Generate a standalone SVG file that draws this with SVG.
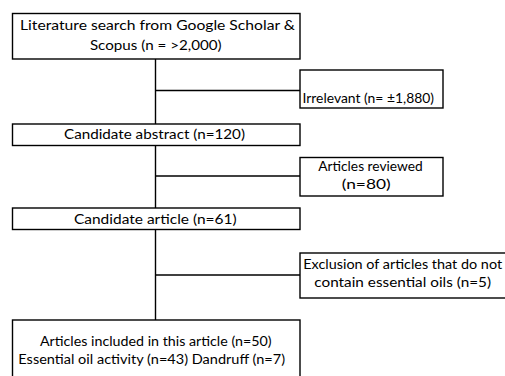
<svg xmlns="http://www.w3.org/2000/svg" width="505" height="376" viewBox="0 0 505 376">
<style>
.box{fill:#fff;stroke:#000;stroke-width:1.4}
.ln{fill:none;stroke:#000;stroke-width:1.4}
text{font-family:Lato,"Liberation Sans",sans-serif;font-size:13.5px;fill:#000}
.c{text-anchor:middle}
</style>
<rect width="505" height="376" fill="#fff"/>
<g id="connectors">
<line class="ln" x1="155.5" y1="59" x2="155.5" y2="320"/>
<line class="ln" x1="155.5" y1="90.5" x2="300" y2="90.5"/>
<line class="ln" x1="155.5" y1="176" x2="300" y2="176"/>
<line class="ln" x1="155.5" y1="275" x2="300" y2="275"/>
</g>
<g id="n1">
<rect class="box" x="12.5" y="13.5" width="287.5" height="45.5"/>
<text class="c" x="157.5" y="30" textLength="275" lengthAdjust="spacingAndGlyphs">Literature search from Google Scholar &amp;</text>
<text class="c" x="155.8" y="50" textLength="131.7" lengthAdjust="spacingAndGlyphs">Scopus (n = &gt;2,000)</text>
</g>
<g id="n2">
<rect class="box" x="300" y="70" width="143" height="38"/>
<text x="302.5" y="103" textLength="131.5" lengthAdjust="spacingAndGlyphs">Irrelevant (n= ±1,880)</text>
</g>
<g id="n3">
<rect class="box" x="12.5" y="124" width="287.5" height="21.5"/>
<text class="c" x="154.5" y="139" textLength="181" lengthAdjust="spacingAndGlyphs">Candidate abstract (n=120)</text>
</g>
<g id="n4">
<rect class="box" x="300" y="157.5" width="143" height="38.5"/>
<text class="c" x="370.5" y="171" textLength="104.4" lengthAdjust="spacingAndGlyphs">Articles reviewed</text>
<text class="c" x="366.2" y="189" textLength="49" lengthAdjust="spacingAndGlyphs">(n=80)</text>
</g>
<g id="n5">
<rect class="box" x="12.5" y="208" width="287.5" height="21.5"/>
<text class="c" x="155.3" y="224" textLength="162.7" lengthAdjust="spacingAndGlyphs">Candidate article (n=61)</text>
</g>
<g id="n6">
<rect class="box" x="300" y="253" width="220" height="45"/>
<text class="c" x="402.7" y="268.5" textLength="198.8" lengthAdjust="spacingAndGlyphs">Exclusion of articles that do not</text>
<text class="c" x="402.7" y="287" textLength="176.7" lengthAdjust="spacingAndGlyphs">contain essential oils (n=5)</text>
</g>
<g id="n7">
<rect class="box" x="12.5" y="320" width="287.5" height="70"/>
<text class="c" x="155.8" y="346" textLength="231.7" lengthAdjust="spacingAndGlyphs">Articles included in this article (n=50)</text>
<text class="c" x="151.7" y="364" textLength="266.7" lengthAdjust="spacingAndGlyphs">Essential oil activity (n=43) Dandruff (n=7)</text>
</g>
</svg>
